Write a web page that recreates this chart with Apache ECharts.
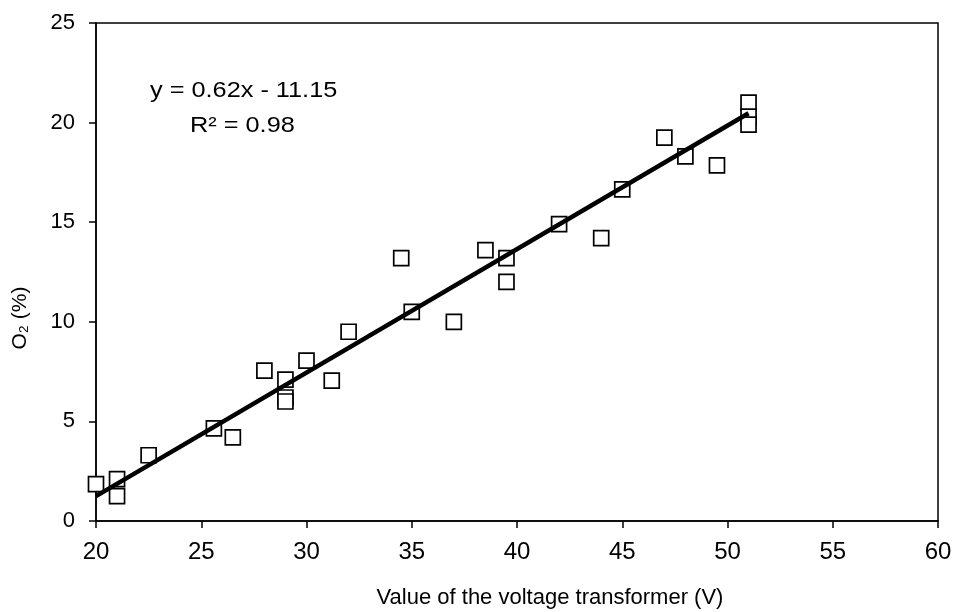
<!DOCTYPE html>
<html>
<head>
<meta charset="utf-8">
<script src="https://cdn.jsdelivr.net/npm/echarts@6/dist/echarts.min.js"></script>
<style>
    html, body { margin: 0; padding: 0; background: #fff; }
    #chart { width: 967px; height: 612px; }
</style>
</head>
<body>
<div id="chart"></div>
<script>
// measured points (voltage V, O2 %)
var voltage = [20, 21, 21, 22.5, 25.6, 26.5, 28, 29, 29, 29, 30, 31.2, 32, 34.5, 35, 37,
    38.5, 39.5, 39.5, 42, 44, 45, 47, 48, 49.5, 51, 51, 51];
var oxygen = [1.85, 2.1, 1.25, 3.3, 4.65, 4.2, 7.55, 7.1, 6.2, 6.0, 8.05, 7.05, 9.5, 13.2, 10.5, 10.0,
    13.6, 13.2, 12.0, 14.9, 14.2, 16.65, 19.25, 18.3, 17.85, 21.0, 20.3, 19.9];

// linear fit y = 0.62x - 11.15
var fitX = [20, 51];
var fitY = [0.62 * 20 - 11.15, 0.62 * 51 - 11.15];

var fontName = 'Liberation Sans, Arial, sans-serif';

var points = [];
for (var i = 0; i < voltage.length; i++) {
    points.push([voltage[i], oxygen[i]]);
}
var fitLine = [];
for (var j = 0; j < fitX.length; j++) {
    fitLine.push([fitX[j], fitY[j]]);
}

var chart = echarts.init(document.getElementById('chart'));

chart.setOption({
    animation: false,
    backgroundColor: '#fff',
    grid: {
        left: 96,
        right: 29,
        top: 23,
        bottom: 91,
        show: true,
        borderColor: '#000',
        borderWidth: 1.5,
        backgroundColor: 'transparent'
    },
    xAxis: {
        type: 'value',
        min: 20,
        max: 60,
        interval: 5,
        axisLine: { lineStyle: { color: '#000', width: 1.5 } },
        axisTick: { inside: false, length: 7, lineStyle: { color: '#000', width: 1.5 } },
        axisLabel: { color: '#000', fontSize: 24, fontFamily: fontName, margin: 19 },
        splitLine: { show: false }
    },
    yAxis: {
        type: 'value',
        min: 0,
        max: 25,
        interval: 5,
        axisLine: { lineStyle: { color: '#000', width: 1.5 } },
        axisTick: { inside: false, length: 7, lineStyle: { color: '#000', width: 1.5 } },
        axisLabel: { color: '#000', fontSize: 22, fontFamily: fontName, margin: 21 },
        splitLine: { show: false }
    },
    graphic: [
        {
            type: 'text',
            left: 150,
            top: 80,
            scaleX: 1.15,
            style: { text: 'y = 0.62x - 11.15', fill: '#000', font: '22px ' + fontName }
        },
        {
            type: 'text',
            left: 190,
            top: 115,
            scaleX: 1.15,
            style: { text: 'R\u00b2 = 0.98', fill: '#000', font: '22px ' + fontName }
        },
        {
            type: 'text',
            x: 550,
            y: 598,
            style: {
                text: 'Value of the voltage transformer (V)',
                fill: '#000',
                font: '22px ' + fontName,
                align: 'center',
                verticalAlign: 'middle'
            }
        },
        {
            type: 'text',
            x: 20,
            y: 318,
            rotation: Math.PI / 2,
            style: {
                text: 'O\u2082 (%)',
                fill: '#000',
                font: '21px ' + fontName,
                align: 'center',
                verticalAlign: 'middle'
            }
        }
    ],
    series: [
        {
            type: 'line',
            data: fitLine,
            symbol: 'none',
            lineStyle: { color: '#000', width: 4.5 },
            z: 3
        },
        {
            type: 'scatter',
            data: points,
            symbol: 'rect',
            symbolSize: 15,
            itemStyle: { color: '#fff', borderColor: '#000', borderWidth: 1.7, opacity: 1 },
            z: 2
        }
    ]
});
</script>
</body>
</html>
